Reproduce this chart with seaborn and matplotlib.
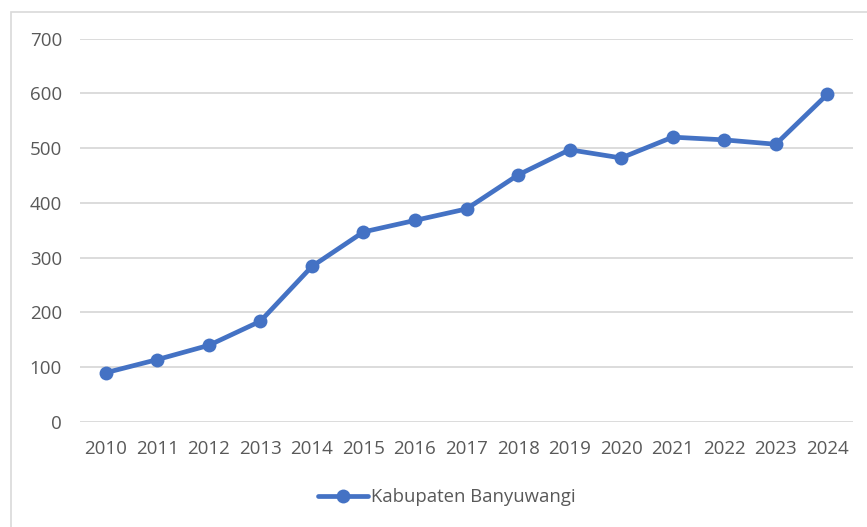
import matplotlib
matplotlib.use("Agg")
import matplotlib.pyplot as plt
from matplotlib.patches import Rectangle
import seaborn as sns
import pandas as pd

# data
years = [2010, 2011, 2012, 2013, 2014, 2015, 2016, 2017, 2018, 2019, 2020, 2021, 2022, 2023, 2024]
values = [90, 114, 140, 184, 284, 347, 368, 389, 451, 497, 482, 520, 515, 507, 598]
series_name = "Kabupaten Banyuwangi"
y_ticks = [0, 100, 200, 300, 400, 500, 600, 700]

df = pd.DataFrame({"year": years, "value": values, "series": series_name})

sns.set_style("white")
plt.rcParams['font.family'] = ['Open Sans', 'DejaVu Sans']

text_color = "#595959"
grid_color = "#D9D9D9"
line_color = "#4472C4"

fig = plt.figure(figsize=(8.67, 5.27), dpi=100)
ax = fig.add_axes([0.0923, 0.1992, 0.8916, 0.7277])

sns.lineplot(data=df, x="year", y="value", hue="series", palette=[line_color],
             marker="o", markersize=10, markeredgewidth=0, linewidth=3.4,
             ax=ax, zorder=3)

ax.set_xlim(years[0] - 0.5, years[-1] + 0.5)
ax.set_ylim(0, 700)
ax.set_xticks(years)
ax.set_xticklabels([str(y) for y in years])
ax.set_yticks(y_ticks)
ax.set_xlabel("")
ax.set_ylabel("")

for s in ax.spines.values():
    s.set_visible(False)
ax.grid(axis="y", color=grid_color, linewidth=1.3, zorder=0)
ax.grid(axis="x", visible=False)
ax.tick_params(axis="both", length=0, labelsize=13.5, colors=text_color)
ax.tick_params(axis="y", pad=13)
ax.tick_params(axis="x", pad=13)

leg = ax.legend(loc="center", bbox_to_anchor=(447 / 867, 1 - 497 / 527),
                bbox_transform=fig.transFigure, frameon=False, fontsize=13.3,
                handlelength=2.7, handletextpad=0.15)
for t in leg.get_texts():
    t.set_color(text_color)

fig.patches.append(Rectangle((11 / 867, -0.1), 1.2, (527 - 12) / 527 + 0.1,
                             transform=fig.transFigure, fill=False,
                             edgecolor=grid_color, linewidth=1.2))

fig.savefig("out.png", dpi=100, facecolor="white")
